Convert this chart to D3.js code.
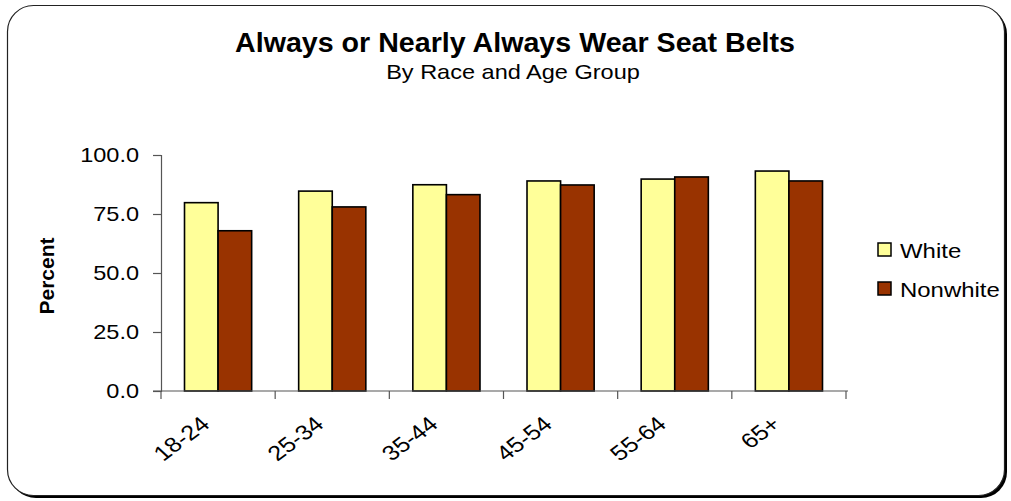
<!DOCTYPE html>
<html>
<head>
<meta charset="utf-8">
<script src="https://cdn.jsdelivr.net/npm/d3@7"></script>
<style>
  body { margin: 0; background: #fff; }
  text { font-family: Arial, "Liberation Sans", sans-serif; fill: #000; }
</style>
</head>
<body>
<div id="chart"></div>
<script>
// Data
var categories = ["18-24", "25-34", "35-44", "45-54", "55-64", "65+"];
var series = ["White", "Nonwhite"];
var white = [79.8, 84.7, 87.4, 89.0, 89.8, 93.2];
var nonwhite = [67.9, 78.0, 83.2, 87.3, 90.7, 89.0];
var yTicks = [0, 25, 50, 75, 100];
var colors = ["#FFFF99", "#993300"];

var width = 1011, height = 501;
var margin = {top: 155, right: 165, bottom: 110, left: 161};

var svg = d3.select("#chart")
    .append("svg")
        .attr("width", width)
        .attr("height", height);

// stretch text a bit wider, like the original
function stretch(sel, k) {
    sel.each(function () {
        var len = this.getComputedTextLength();
        d3.select(this)
            .attr("textLength", len * k)
            .attr("lengthAdjust", "spacingAndGlyphs");
    });
}

// Frame with shadow
svg.append("rect")
    .attr("x", 10).attr("y", 8)
    .attr("width", 997).attr("height", 490)
    .attr("rx", 26).attr("ry", 26)
    .attr("fill", "#000");
svg.append("rect")
    .attr("x", 7.5).attr("y", 5.5)
    .attr("width", 997).attr("height", 490)
    .attr("rx", 26).attr("ry", 26)
    .attr("fill", "#fff")
    .attr("stroke", "#222")
    .attr("stroke-width", 1.2);

// Scales
var x0 = d3.scaleBand()
    .domain(categories)
    .range([margin.left, width - margin.right])
    .paddingInner(0).paddingOuter(0);

var x1 = d3.scaleBand()
    .domain(series)
    .range([0, x0.bandwidth()])
    .paddingInner(0)
    .paddingOuter(0.7);

var y = d3.scaleLinear()
    .domain([0, 100])
    .range([height - margin.bottom, margin.top]);

// Bars
var rows = categories.map(function (c, i) {
    return {cat: c, values: [white[i], nonwhite[i]]};
});

var groups = svg.selectAll(".grp")
    .data(rows)
    .enter().append("g")
        .attr("class", "grp")
        .attr("transform", function (d) { return "translate(" + x0(d.cat) + ",0)"; });

groups.selectAll("rect")
    .data(function (d) { return d.values.map(function (v, j) { return {s: series[j], v: v, j: j}; }); })
    .enter().append("rect")
        .attr("x", function (d) { return x1(d.s); })
        .attr("y", function (d) { return y(d.v); })
        .attr("width", x1.bandwidth())
        .attr("height", function (d) { return y(0) - y(d.v); })
        .attr("fill", function (d) { return colors[d.j]; })
        .attr("stroke", "#000")
        .attr("stroke-width", 1.6);

// Y axis
var yAxis = svg.append("g")
    .attr("transform", "translate(" + margin.left + ",0)")
    .call(d3.axisLeft(y).tickValues(yTicks).tickFormat(d3.format(".1f")).tickSizeOuter(0).tickSize(8).tickPadding(14));
yAxis.select(".domain").attr("stroke", "#555").attr("stroke-width", 1.2);
yAxis.selectAll(".tick line").attr("stroke", "#555").attr("stroke-width", 1.2);
yAxis.selectAll("text")
    .style("font-size", "21px")
    .attr("fill", "#000")
    .call(stretch, 1.12);

// X axis line + ticks at category boundaries
var xAxisG = svg.append("g")
    .attr("transform", "translate(0," + y(0) + ")");
xAxisG.append("line")
    .attr("x1", margin.left - 8).attr("x2", width - margin.right + 2)
    .attr("stroke", "#555").attr("stroke-width", 1.2);
var bounds = categories.map(function (c) { return x0(c); }).concat([x0.range()[1]]);
xAxisG.selectAll(".bt")
    .data(bounds)
    .enter().append("line")
        .attr("class", "bt")
        .attr("x1", function (d) { return d; })
        .attr("x2", function (d) { return d; })
        .attr("y1", 0).attr("y2", 8)
        .attr("stroke", "#555").attr("stroke-width", 1.2);

// rotated labels, squashed like the original (stretched horizontally)
xAxisG.selectAll(".cl")
    .data(categories)
    .enter().append("text")
        .attr("class", "cl")
        .attr("text-anchor", "end")
        .style("font-size", "21px")
        .attr("transform", function (d) {
            return "translate(" + (x0(d) + x0.bandwidth() / 2 - 7) + ",35) scale(1.2,1) rotate(-42)";
        })
        .text(function (d) { return d; });

// Y axis title
svg.append("text")
    .attr("transform", "translate(54," + (y(50) + 3) + ") rotate(-90)")
    .attr("text-anchor", "middle")
    .style("font-size", "20px")
    .style("font-weight", "bold")
    .text("Percent")
    .call(stretch, 1.05);

// Titles
svg.append("text")
    .attr("x", 515).attr("y", 52)
    .attr("text-anchor", "middle")
    .style("font-size", "27px")
    .style("font-weight", "bold")
    .text("Always or Nearly Always Wear Seat Belts")
    .call(stretch, 1.06);

svg.append("text")
    .attr("x", 513).attr("y", 79)
    .attr("text-anchor", "middle")
    .style("font-size", "21px")
    .text("By Race and Age Group")
    .call(stretch, 1.12);

// Legend
var legend = svg.append("g")
    .attr("transform", "translate(878,243)");
var li = legend.selectAll(".li")
    .data(series)
    .enter().append("g")
        .attr("class", "li")
        .attr("transform", function (d, i) { return "translate(0," + (i * 39) + ")"; });
li.append("rect")
    .attr("width", 13).attr("height", 13)
    .attr("fill", function (d, i) { return colors[i]; })
    .attr("stroke", "#000").attr("stroke-width", 1.5);
li.append("text")
    .attr("x", 22).attr("y", 15)
    .style("font-size", "21px")
    .text(function (d) { return d; })
    .call(stretch, 1.14);
</script>
</body>
</html>
